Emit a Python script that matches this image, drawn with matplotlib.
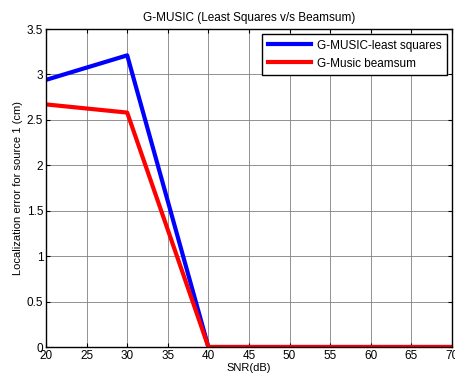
import matplotlib
matplotlib.use("Agg")
import matplotlib.pyplot as plt

snr = [20, 30, 40, 50, 60, 70]
ls_err = [2.94, 3.21, 0, 0, 0, 0]
bs_err = [2.67, 2.58, 0, 0, 0, 0]
xticks = [20, 25, 30, 35, 40, 45, 50, 55, 60, 65, 70]
yticks = [0, 0.5, 1, 1.5, 2, 2.5, 3, 3.5]

plt.rcParams['font.family'] = ['Liberation Sans', 'DejaVu Sans']
fig = plt.figure(figsize=(4.56, 3.79), dpi=100)
ax = fig.add_axes([46/456, 1-347/379, (452-46)/456, (347-29)/379])
ax.plot(snr, ls_err, color='#0000ff', lw=3, label='G-MUSIC-least squares')
ax.plot(snr, bs_err, color='#ff0000', lw=3, label='G-Music beamsum')
ax.set_xlim(20, 70)
ax.set_ylim(0, 3.5)
ax.set_xticks(xticks)
ax.set_yticks(yticks)
ax.set_xticklabels([str(t) for t in xticks])
ax.set_yticklabels(['0', '0.5', '1', '1.5', '2', '2.5', '3', '3.5'])
ax.grid(True, color='#808080', lw=0.6, ls='-')
ax.tick_params(direction='in', top=True, right=True, labelsize=8.5, length=3, pad=2)
for s in ax.spines.values():
    s.set_linewidth(1.0)
ax.set_xlabel('SNR(dB)', fontsize=8, labelpad=1)
ax.set_ylabel('Localization error for source 1 (cm)', fontsize=8, labelpad=3)
ax.set_title('G-MUSIC (Least Squares v/s Beamsum)', fontsize=8.5, pad=6)
leg = ax.legend(loc='upper right', fontsize=8.5, fancybox=False, framealpha=1,
                edgecolor='black', borderaxespad=0.4, handlelength=3.6,
                borderpad=0.5, labelspacing=0.5, handletextpad=0.5)
leg.get_frame().set_linewidth(1.0)
fig.savefig('out.png', dpi=100)
